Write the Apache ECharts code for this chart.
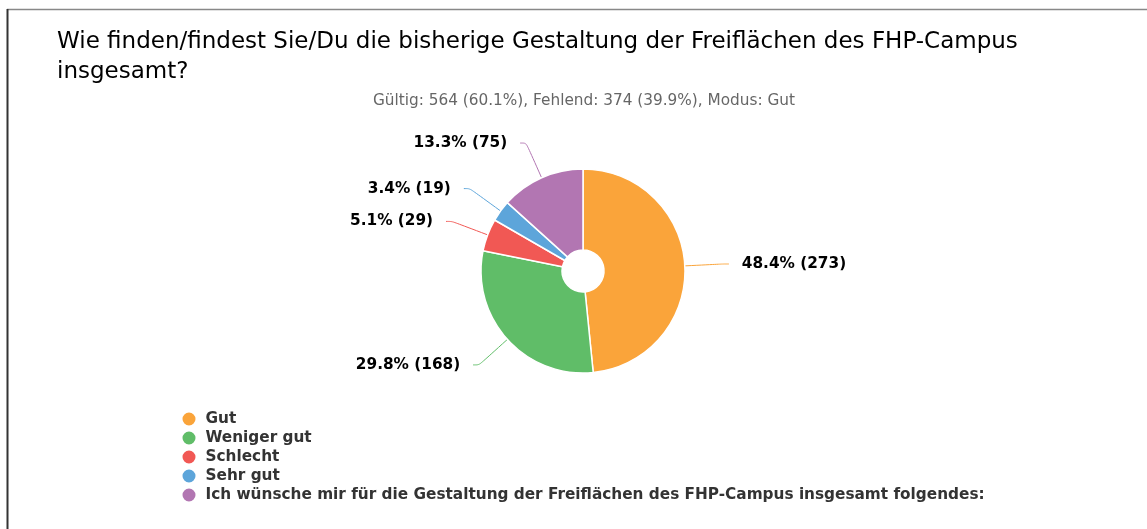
<!DOCTYPE html>
<html>
<head>
<meta charset="utf-8">
<script src="https://cdn.jsdelivr.net/npm/echarts@6/dist/echarts.min.js"></script>
<style>
html,body{margin:0;padding:0;background:#fff;}
#chart{width:1147px;height:529px;}
</style>
</head>
<body>
<div id="chart"></div>
<script>
var titleText = 'Wie finden/findest Sie/Du die bisherige Gestaltung der Freiflächen des FHP-Campus\ninsgesamt?';
var subtitleText = 'Gültig: 564 (60.1%), Fehlend: 374 (39.9%), Modus: Gut';
var categories = ['Gut', 'Weniger gut', 'Schlecht', 'Sehr gut', 'Ich wünsche mir für die Gestaltung der Freiflächen des FHP-Campus insgesamt folgendes:'];
var counts = [273, 168, 29, 19, 75];
var percents = ['48.4', '29.8', '5.1', '3.4', '13.3'];
var colors = ['#FAA43A', '#60BD68', '#F15854', '#5DA5DA', '#B276B2'];

var FONT = 'DejaVu Sans';
var chart = echarts.init(document.getElementById('chart'), null, {renderer: 'canvas'});
var data = categories.map(function (c, i) {
  return {name: c, value: counts[i], pct: percents[i], itemStyle: {color: colors[i]}, labelLine: {lineStyle: {color: colors[i]}}};
});
chart.setOption({
  animation: false,
  title: {
    text: titleText,
    left: 52,
    top: 22,
    textStyle: {fontFamily: FONT, fontSize: 23, fontWeight: 'normal', color: '#000', lineHeight: 30}
  },
  graphic: [
    {type: 'line', shape: {x1: 7, y1: 9.5, x2: 1147, y2: 9.5}, style: {stroke: '#888', lineWidth: 1.5}},
    {type: 'line', shape: {x1: 7.5, y1: 9, x2: 7.5, y2: 529}, style: {stroke: '#333', lineWidth: 2}},
    {type: 'text', x: 584, y: 101, style: {text: subtitleText, fontFamily: FONT, fontSize: 15.3, fill: '#666', textAlign: 'center', textVerticalAlign: 'middle'}}
  ],
  legend: {
    orient: 'vertical',
    left: 180.5,
    top: 409.5,
    padding: 0,
    icon: 'circle',
    itemWidth: 15,
    itemHeight: 15,
    itemGap: 0,
    selectedMode: false,
    data: categories,
    textStyle: {fontFamily: FONT, fontSize: 15.3, fontWeight: 'bold', color: '#333', lineHeight: 19, padding: [0, 0, 0, 4]}
  },
  series: [{
    type: 'pie',
    center: [583, 271],
    radius: [21, 102],
    startAngle: 90,
    clockwise: true,
    avoidLabelOverlap: true,
    itemStyle: {borderColor: '#fff', borderWidth: 1.5},
    label: {
      show: true,
      formatter: function (p) { return p.data.pct + '% (' + p.value + ')'; },
      fontFamily: FONT,
      fontSize: 15.3,
      fontWeight: 'bold',
      color: '#000',
      padding: [10, 0, 0, 0],
      distanceToLabelLine: 13
    },
    labelLine: {show: true, length: 38, length2: 6, smooth: true, lineStyle: {width: 1}},
    emphasis: {disabled: true},
    data: data
  }]
});
</script>
</body>
</html>
